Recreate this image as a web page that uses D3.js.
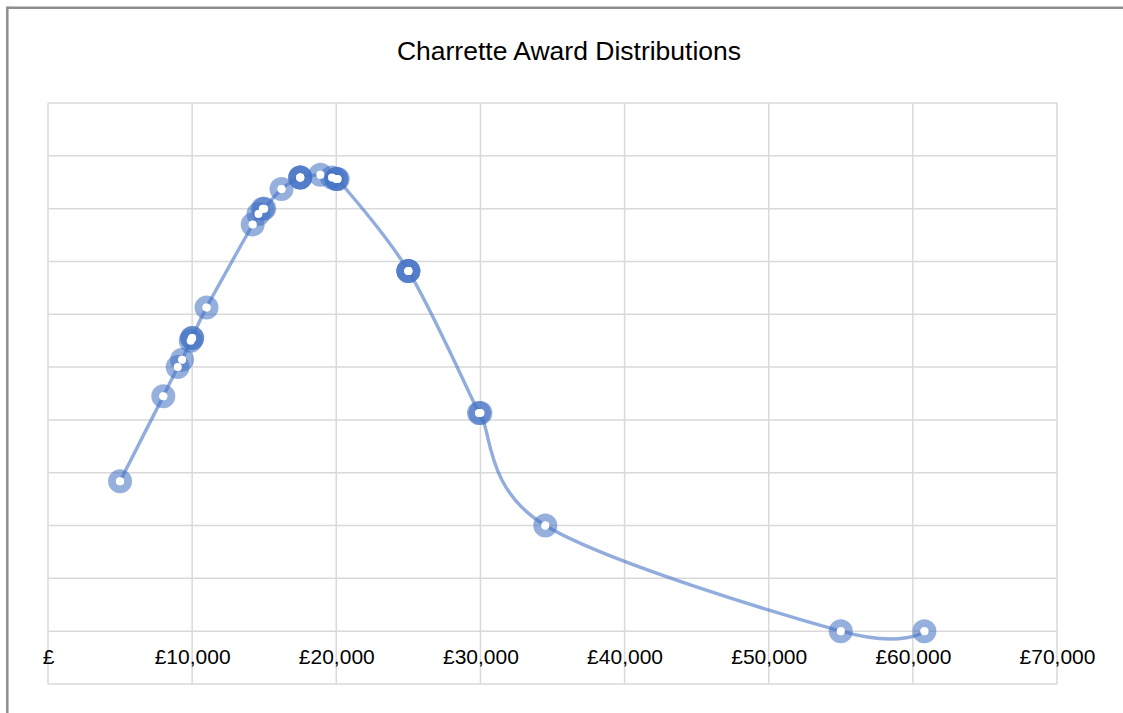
<!DOCTYPE html>
<html>
<head>
<meta charset="utf-8">
<script src="https://cdn.jsdelivr.net/npm/d3@7/dist/d3.min.js"></script>
<style>
  html, body { margin: 0; padding: 0; background: #fff; }
  svg { display: block; }
</style>
</head>
<body>
<svg id="chart" width="1123" height="713"></svg>
<script>
// ---- Data ----
const chartTitle = "Charrette Award Distributions";
const awardAmounts = [5000, 8000, 9000, 9300, 9900, 10000, 10000, 11000, 14200, 14600, 14900, 15000,
                      16200, 17500, 17500, 17500, 18900, 19700, 20000, 20000, 20100,
                      25000, 25000, 25000, 29900, 30000, 34500, 55000, 60800];
const awardValues  = [2.84, 4.45, 5.0, 5.14, 5.5, 5.55, 5.55, 6.13, 7.7, 7.9, 8.0, 8.0,
                      8.37, 8.59, 8.59, 8.59, 8.64, 8.59, 8.56, 8.56, 8.56,
                      6.82, 6.82, 6.82, 4.13, 4.13, 2.0, 0, 0];
const xTicks = [0, 10000, 20000, 30000, 40000, 50000, 60000, 70000];
const yGridValues = [-1, 0, 1, 2, 3, 4, 5, 6, 7, 8, 9, 10];

// ---- Layout ----
const svg = d3.select("#chart");
const W = 1123, H = 713;
const plot = { left: 48, right: 1057, top: 103, bottom: 684 };

const x = d3.scaleLinear().domain([0, 70000]).range([plot.left, plot.right]);
const y = d3.scaleLinear().domain([-1, 10]).range([plot.bottom, plot.top]);

// Outer chart border (top and left visible)
svg.append("line").attr("x1", 7.5).attr("x2", W).attr("y1", 7.8).attr("y2", 7.8)
  .attr("stroke", "#8e8e8e").attr("stroke-width", 2.5);
svg.append("line").attr("x1", 7.3).attr("x2", 7.3).attr("y1", 6.5).attr("y2", H)
  .attr("stroke", "#8e8e8e").attr("stroke-width", 2.5);

// Title
svg.append("text")
  .attr("x", 569)
  .attr("y", 60)
  .attr("text-anchor", "middle")
  .attr("font-family", "'Liberation Sans', Arial, sans-serif")
  .attr("font-size", 26.5)
  .attr("fill", "#000")
  .text(chartTitle);

// Gridlines
const grid = svg.append("g").attr("stroke", "#d9d9d9").attr("stroke-width", 1.5);
grid.selectAll("line.h").data(yGridValues).join("line")
  .attr("class", "h")
  .attr("x1", plot.left).attr("x2", plot.right)
  .attr("y1", d => y(d)).attr("y2", d => y(d));
grid.selectAll("line.v").data(xTicks).join("line")
  .attr("class", "v")
  .attr("x1", d => x(d)).attr("x2", d => x(d))
  .attr("y1", plot.top).attr("y2", plot.bottom);

// X axis labels (via d3 axis, no domain/ticks lines)
const fmt = d3.format(",");
const xAxis = d3.axisBottom(x)
  .tickValues(xTicks)
  .tickSize(0)
  .tickPadding(0)
  .tickFormat(d => d === 0 ? "£" : "£" + fmt(d));
const gx = svg.append("g")
  .attr("transform", `translate(0, ${y(0)})`)
  .call(xAxis);
gx.select(".domain").remove();
gx.selectAll("text")
  .attr("dy", null)
  .attr("y", 33)
  .attr("font-family", "'Liberation Sans', Arial, sans-serif")
  .attr("font-size", 21)
  .attr("fill", "#000");

// Data points
const points = awardAmounts.map((a, i) => ({ x: a, y: awardValues[i] }));

// Smoothed line through distinct points
const uniq = Array.from(d3.group(points, d => d.x + "|" + d.y).values(), g => g[0])
  .sort((a, b) => a.x - b.x);
const line = d3.line()
  .x(d => x(d.x))
  .y(d => y(d.y))
  .curve(d3.curveCardinal.tension(0));
svg.append("path")
  .datum(uniq)
  .attr("d", line)
  .attr("fill", "none")
  .attr("stroke", "rgba(68,114,196,0.58)")
  .attr("stroke-width", 3.4);

// Markers (translucent rings, white centre)
const mk = svg.append("g");
mk.selectAll("circle.ring").data(points).join("circle")
  .attr("class", "ring")
  .attr("cx", d => x(d.x))
  .attr("cy", d => y(d.y))
  .attr("r", 8)
  .attr("fill", "none")
  .attr("stroke", "rgba(68,114,196,0.56)")
  .attr("stroke-width", 8);
mk.selectAll("circle.hole").data(points).join("circle")
  .attr("class", "hole")
  .attr("cx", d => x(d.x))
  .attr("cy", d => y(d.y))
  .attr("r", 4)
  .attr("fill", "#fff");
</script>
</body>
</html>
